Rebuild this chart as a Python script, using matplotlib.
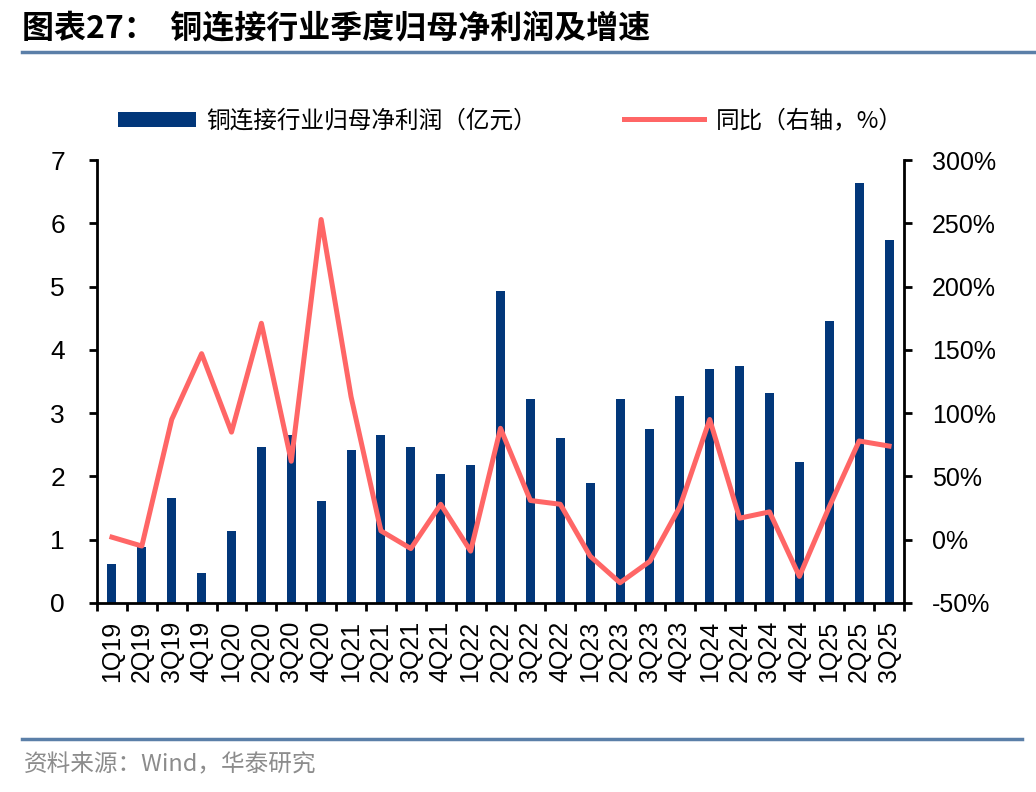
import numpy as np
import matplotlib
matplotlib.use('Agg')
import matplotlib.pyplot as plt
from matplotlib.lines import Line2D
from matplotlib.ticker import FuncFormatter

plt.rcParams['font.family'] = ['Liberation Sans', 'Noto Sans CJK SC', 'DejaVu Sans']

quarters = ['1Q19', '2Q19', '3Q19', '4Q19', '1Q20', '2Q20', '3Q20', '4Q20',
            '1Q21', '2Q21', '3Q21', '4Q21', '1Q22', '2Q22', '3Q22', '4Q22',
            '1Q23', '2Q23', '3Q23', '4Q23', '1Q24', '2Q24', '3Q24', '4Q24',
            '1Q25', '2Q25', '3Q25']
# 归母净利润（亿元）
profit = [0.61, 0.89, 1.66, 0.47, 1.14, 2.47, 2.66, 1.61,
          2.41, 2.66, 2.47, 2.04, 2.18, 4.93, 3.23, 2.61,
          1.90, 3.23, 2.75, 3.27, 3.70, 3.75, 3.32, 2.23,
          4.46, 6.64, 5.74]
# 同比（%）
yoy = [2, -5, 95, 147, 85, 171, 62, 253,
       113, 7, -7, 28, -9, 88, 31, 28,
       -13, -34, -17, 26, 95, 17, 22, -29,
       26, 78, 74]

bar_color = '#02377A'
line_color = '#FF6666'
rule_color = '#5B7FA8'
W, H = 1036, 792

fig = plt.figure(figsize=(W / 100, H / 100), dpi=100)
ax = fig.add_axes([97 / W, 1 - 603 / H, (904 - 97) / W, (603 - 160) / H])
x = np.arange(len(quarters))

bars = ax.bar(x, profit, width=0.3, color=bar_color, zorder=2)
ax.set_xlim(-0.5, len(quarters) - 0.5)
ax.set_ylim(0, 7)
ax.set_yticks(range(0, 8))

ax2 = ax.twinx()
line, = ax2.plot(x, yoy, color=line_color, lw=3.6, zorder=3)
ax2.set_ylim(-50, 300)
ax2.set_yticks(range(-50, 301, 50))
ax2.yaxis.set_major_formatter(FuncFormatter(lambda v, p: f'{int(v)}%'))

for a in (ax, ax2):
    a.spines['top'].set_visible(False)
    a.set_facecolor('none')
ax.spines['right'].set_visible(False)
ax2.spines['left'].set_visible(False)
ax2.spines['bottom'].set_visible(False)
for s in ('left', 'bottom'):
    ax.spines[s].set_linewidth(2)
ax2.spines['right'].set_linewidth(2)

ax.set_xticks(np.arange(-0.5, len(quarters), 1.0))
ax.set_xticklabels([])
ax.set_xticks(x, minor=True)
ax.set_xticklabels(quarters, minor=True, rotation=90, fontsize=18)
ax.tick_params(axis='x', which='major', length=6, width=2, direction='out')
ax.tick_params(axis='x', which='minor', length=0, pad=13)
ax.tick_params(axis='y', length=6, width=2, labelsize=19, pad=17)
ax2.tick_params(axis='y', length=6, width=2, labelsize=18, pad=14)

cjk = {'family': ['Noto Sans CJK SC'], 'size': 17}
leg1 = fig.legend([bars], ['铜连接行业归母净利润（亿元）'], loc='center left',
                  bbox_to_anchor=(118 / W, 1 - 121 / H), frameon=False, prop=cjk,
                  handlelength=3.3, handleheight=0.6, handletextpad=0.45,
                  borderpad=0, borderaxespad=0)
leg2 = fig.legend([line], ['同比（右轴，%）'], loc='center left',
                  bbox_to_anchor=(624 / W, 1 - 121 / H), frameon=False, prop=cjk,
                  handlelength=3.4, handletextpad=0.5,
                  borderpad=0, borderaxespad=0)

fig.text(22 / W, 1 - 29 / H, '图表27：  铜连接行业季度归母净利润及增速',
         fontsize=23, fontweight='bold', va='center', ha='left',
         family=['Noto Sans CJK SC'])
fig.add_artist(Line2D([22 / W, 1.0], [1 - 52 / H] * 2, color=rule_color, lw=2.5))
fig.add_artist(Line2D([22 / W, 1022 / W], [1 - 739 / H] * 2, color=rule_color, lw=2.5))
fig.text(24 / W, 1 - 765 / H, '资料来源：Wind，华泰研究', fontsize=17,
         color='#8C8C8C', va='center', ha='left',
         family=['Noto Sans CJK SC'])

fig.savefig('out.png', dpi=100)
